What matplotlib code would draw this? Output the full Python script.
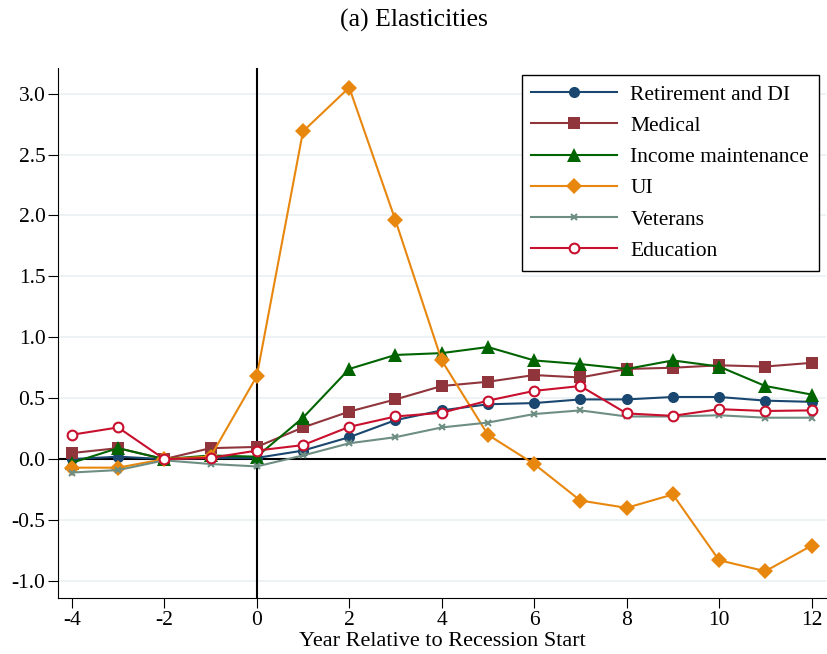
import matplotlib.pyplot as plt
import numpy as np

years = list(range(-4, 13))

retirement = [0.00, 0.02, 0.00, 0.01, 0.01, 0.07, 0.18, 0.32, 0.40, 0.45, 0.46, 0.49, 0.49, 0.51, 0.51, 0.48, 0.47]
medical = [0.05, 0.09, 0.00, 0.09, 0.10, 0.26, 0.39, 0.49, 0.60, 0.635, 0.69, 0.67, 0.74, 0.75, 0.77, 0.76, 0.79]
income = [-0.03, 0.09, 0.00, 0.03, 0.02, 0.34, 0.74, 0.855, 0.87, 0.92, 0.81, 0.78, 0.74, 0.81, 0.76, 0.60, 0.53]
ui = [-0.07, -0.07, 0.00, 0.02, 0.68, 2.69, 3.05, 1.96, 0.81, 0.20, -0.04, -0.34, -0.40, -0.29, -0.83, -0.92, -0.71]
veterans = [-0.11, -0.09, -0.01, -0.04, -0.06, 0.03, 0.13, 0.18, 0.26, 0.30, 0.37, 0.40, 0.35, 0.35, 0.36, 0.34, 0.34]
education = [0.20, 0.26, 0.00, 0.01, 0.07, 0.115, 0.265, 0.35, 0.38, 0.48, 0.56, 0.60, 0.375, 0.355, 0.41, 0.395, 0.40]

series = [
    ("Retirement and DI", retirement, "#1a476f", "o", 8, "full"),
    ("Medical", medical, "#90353b", "s", 8, "full"),
    ("Income maintenance", income, "#006400", "^", 9.5, "full"),
    ("UI", ui, "#e8870e", "D", 8, "full"),
    ("Veterans", veterans, "#6e8e84", "x", 5, "full"),
    ("Education", education, "#c8102e", "o", 7, "none"),
]

plt.rcParams["font.family"] = ["Liberation Serif", "DejaVu Serif"]
plt.rcParams["axes.unicode_minus"] = False

fig = plt.figure(figsize=(8.28, 6.54), dpi=100)
ax = fig.add_axes([0.070, 0.0856, 0.928, 0.8104])

ax.set_yticks(np.arange(-1.0, 3.01, 0.5))
ax.grid(axis="y", color="#eaf0f3", linewidth=1.2)
ax.set_axisbelow(True)

ax.axvline(0, color="black", linewidth=1.5, zorder=1)
ax.axhline(0, color="black", linewidth=1.5, zorder=1)

for name, vals, col, mk, ms, fill in series:
    if fill == "none":
        ax.plot(years, vals, color=col, marker=mk, markersize=ms, linewidth=1.5,
                markerfacecolor="white", markeredgewidth=1.5, label=name, zorder=3)
    elif mk == "x":
        ax.plot(years, vals, color=col, marker=mk, markersize=ms, linewidth=1.5,
                markeredgewidth=1.5, label=name, zorder=3)
    else:
        ax.plot(years, vals, color=col, marker=mk, markersize=ms, linewidth=1.5,
                markeredgewidth=0, label=name, zorder=3)

ax.set_xlim(-4.30, 12.32)
ax.set_ylim(-1.14, 3.21)
ax.set_xticks(range(-4, 13, 2))
ax.set_yticklabels([f"{v:.1f}" for v in np.arange(-1.0, 3.01, 0.5)])

for s in ["top", "right"]:
    ax.spines[s].set_visible(False)
ax.tick_params(labelsize=15.5, length=7, pad=2)

ax.set_xlabel("Year Relative to Recession Start", fontsize=16, labelpad=2)
fig.suptitle("(a) Elasticities", fontsize=18.5, y=0.987)

leg = ax.legend(loc="upper right", bbox_to_anchor=(0.99, 0.987), borderaxespad=0,
                fontsize=15.5, frameon=True, fancybox=False, edgecolor="black",
                framealpha=1, handlelength=4.0, handletextpad=0.6, borderpad=0.45,
                labelspacing=0.52)
leg.get_frame().set_linewidth(1.0)

fig.savefig("out.png", dpi=100)
